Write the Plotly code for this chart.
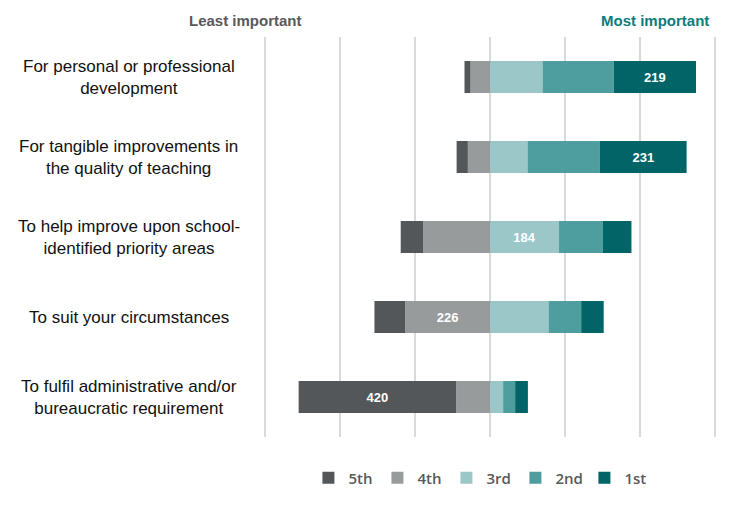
import plotly.graph_objects as go

categories = [
    "For personal or professional<br>development",
    "For tangible improvements in<br>the quality of teaching",
    "To help improve upon school-<br>identified priority areas",
    "To suit your circumstances",
    "To fulfil administrative and/or<br>bureaucratic requirement",
]
rank_names = ["5th", "4th", "3rd", "2nd", "1st"]
fifth = [16, 30, 60, 82, 420]
fourth = [52, 59, 178, 226, 90]
third = [140, 100, 184, 156, 35]
second = [190, 193, 116, 87, 32]
first = [219, 231, 77, 60, 34]
tick_vals = [-600, -400, -200, 0, 200, 400, 600]

colors = {"5th": "#53575a", "4th": "#989b9c", "3rd": "#9cc7c9", "2nd": "#4e9ea0", "1st": "#016467"}
series = {"5th": fifth, "4th": fourth, "3rd": third, "2nd": second, "1st": first}
row_max = [max(v) for v in zip(fifth, fourth, third, second, first)]

fig = go.Figure()
order = ["4th", "5th", "3rd", "2nd", "1st"]
for name in order:
    vals = series[name]
    sign = -1 if name in ("5th", "4th") else 1
    texts = [str(v) if v == m else "" for v, m in zip(vals, row_max)]
    fig.add_trace(go.Bar(
        y=categories, x=[sign * v for v in vals], name=name, orientation="h",
        marker=dict(color=colors[name], line=dict(width=0)),
        text=texts, textposition="inside", insidetextanchor="middle", textangle=0,
        insidetextfont=dict(color="white", size=13, family="Arial", weight="bold"),
        legendrank=rank_names.index(name) + 1,
        hovertemplate="%{y}: %{customdata}<extra>" + name + "</extra>",
        customdata=vals,
    ))

# plot area: x from 263 to 717 px (range -605..605), y from 37 to 437 px
annotations = []
for c in categories:
    annotations.append(dict(
        x=-0.2952, y=c, xref="paper", yref="y", text=c, showarrow=False,
        xanchor="center", yanchor="middle", align="center",
        font=dict(family="Arial", size=17, color="#111111"),
    ))
annotations.append(dict(x=-0.0396, y=1.0425, xref="paper", yref="paper", text="<b>Least important</b>",
                        showarrow=False, xanchor="center", yanchor="middle",
                        font=dict(family="Arial", size=15, color="#595959")))
annotations.append(dict(x=0.9868, y=1.0425, xref="paper", yref="paper", text="<b>Most important</b>",
                        showarrow=False, xanchor="right", yanchor="middle",
                        font=dict(family="Arial", size=15, color="#0e7c7b")))

fig.update_layout(
    width=736, height=509,
    margin=dict(l=263, r=19, t=37, b=72),
    paper_bgcolor="white", plot_bgcolor="white",
    barmode="relative", bargap=0.6,
    xaxis=dict(range=[-605, 605], tickvals=tick_vals, showticklabels=False,
               showgrid=True, gridcolor="#d9d9d9", gridwidth=1.5,
               zeroline=False, showline=False, fixedrange=True),
    yaxis=dict(categoryorder="array", categoryarray=categories, autorange="reversed",
               showticklabels=False, showgrid=False, zeroline=False, showline=False,
               fixedrange=True),
    legend=dict(orientation="h", x=0.48, xanchor="center", y=-0.1025, yanchor="middle",
                font=dict(family="Open Sans", size=15, color="#595959", weight=600),
                itemwidth=30, traceorder="normal", entrywidth=24, entrywidthmode="pixels"),
    annotations=annotations,
    showlegend=True,
)
fig.write_html("out.html", config={"displayModeBar": False},
               post_script="document.body.style.margin='0';document.body.style.padding='0';")
